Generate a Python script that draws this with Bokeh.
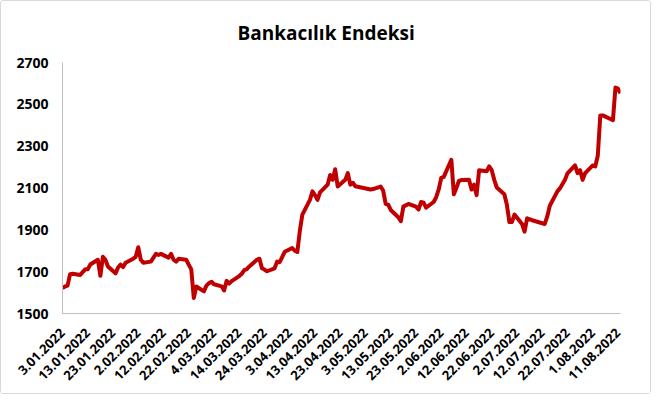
import math
from datetime import datetime
from bokeh.plotting import figure
from bokeh.models import Range1d, FixedTicker
from bokeh.embed import file_html
from bokeh.resources import INLINE

# ---- data ----
dates = [
    "2022-01-03", "2022-01-04", "2022-01-05", "2022-01-06", "2022-01-07",
    "2022-01-10", "2022-01-11", "2022-01-12", "2022-01-13", "2022-01-14",
    "2022-01-17", "2022-01-18", "2022-01-19", "2022-01-20", "2022-01-21",
    "2022-01-24", "2022-01-25", "2022-01-26", "2022-01-27", "2022-01-28",
    "2022-01-31", "2022-02-01", "2022-02-02", "2022-02-03", "2022-02-04",
    "2022-02-07", "2022-02-09", "2022-02-10", "2022-02-11", "2022-02-14",
    "2022-02-15", "2022-02-16", "2022-02-17", "2022-02-18", "2022-02-21",
    "2022-02-22", "2022-02-23", "2022-02-24", "2022-02-25", "2022-02-28",
    "2022-03-01", "2022-03-02", "2022-03-03", "2022-03-04", "2022-03-07",
    "2022-03-08", "2022-03-09", "2022-03-10", "2022-03-11", "2022-03-14",
    "2022-03-15", "2022-03-16", "2022-03-17", "2022-03-18", "2022-03-21",
    "2022-03-22", "2022-03-23", "2022-03-24", "2022-03-25", "2022-03-28",
    "2022-03-29", "2022-03-30", "2022-03-31", "2022-04-01", "2022-04-04",
    "2022-04-05", "2022-04-06", "2022-04-07", "2022-04-08", "2022-04-11",
    "2022-04-12", "2022-04-13", "2022-04-14", "2022-04-15", "2022-04-18",
    "2022-04-19", "2022-04-20", "2022-04-21", "2022-04-22", "2022-04-25",
    "2022-04-26", "2022-04-27", "2022-04-28", "2022-04-29", "2022-05-05",
    "2022-05-06", "2022-05-09", "2022-05-10", "2022-05-11", "2022-05-12",
    "2022-05-13", "2022-05-16", "2022-05-17", "2022-05-18", "2022-05-20",
    "2022-05-23", "2022-05-24", "2022-05-25", "2022-05-26", "2022-05-27",
    "2022-05-30", "2022-05-31", "2022-06-01", "2022-06-02", "2022-06-03",
    "2022-06-06", "2022-06-07", "2022-06-08", "2022-06-09", "2022-06-10",
    "2022-06-13", "2022-06-14", "2022-06-15", "2022-06-16", "2022-06-17",
    "2022-06-20", "2022-06-21", "2022-06-22", "2022-06-23", "2022-06-24",
    "2022-06-27", "2022-06-28", "2022-06-29", "2022-06-30", "2022-07-01",
    "2022-07-04", "2022-07-05", "2022-07-06", "2022-07-08", "2022-07-13",
    "2022-07-14", "2022-07-15", "2022-07-18", "2022-07-19", "2022-07-21",
    "2022-07-22", "2022-07-25", "2022-07-26", "2022-07-27", "2022-07-28",
    "2022-07-29", "2022-08-01", "2022-08-02", "2022-08-03", "2022-08-04",
    "2022-08-05", "2022-08-08", "2022-08-09", "2022-08-10", "2022-08-11",
    "2022-08-12",
]
values = [
    1622, 1629, 1633, 1688, 1690,
    1684, 1698, 1711, 1711, 1734,
    1757, 1680, 1771, 1757, 1725,
    1692, 1720, 1734, 1722, 1743,
    1762, 1771, 1817, 1757, 1743,
    1748, 1785, 1780, 1785, 1767,
    1785, 1757, 1748, 1762, 1757,
    1734, 1711, 1574, 1629, 1606,
    1633, 1645, 1652, 1640, 1630,
    1610, 1656, 1643, 1655, 1679,
    1690, 1707, 1712, 1725, 1757,
    1762, 1716, 1710, 1702, 1716,
    1748, 1745, 1770, 1795, 1813,
    1800, 1794, 1895, 1973, 2043,
    2084, 2066, 2043, 2079, 2116,
    2162, 2139, 2190, 2107, 2139,
    2171, 2116, 2125, 2108, 2093,
    2095, 2107, 2088, 2024, 2020,
    1995, 1960, 1941, 2011, 2024,
    2011, 1997, 2033, 2030, 2006,
    2033, 2056, 2093, 2148, 2153,
    2235, 2070, 2100, 2134, 2138,
    2139, 2093, 2116, 2066, 2185,
    2180, 2203, 2185, 2139, 2102,
    2070, 2020, 1937, 1937, 1973,
    1928, 1891, 1955, 1946, 1928,
    1964, 2015, 2084, 2098, 2139,
    2170, 2208, 2171, 2185, 2139,
    2171, 2208, 2203, 2254, 2447,
    2447, 2430, 2424, 2580, 2575,
    2553,
]
x_tick_labels = [
    "3.01.2022", "13.01.2022", "23.01.2022", "2.02.2022", "12.02.2022",
    "22.02.2022", "4.03.2022", "14.03.2022", "24.03.2022", "3.04.2022",
    "13.04.2022", "23.04.2022", "3.05.2022", "13.05.2022", "23.05.2022",
    "2.06.2022", "12.06.2022", "22.06.2022", "2.07.2022", "12.07.2022",
    "22.07.2022", "1.08.2022", "11.08.2022",
]
y_ticks = [1500, 1700, 1900, 2100, 2300, 2500, 2700]
title_text = "Bankacılık Endeksi"

EPOCH = datetime(1970, 1, 1)


def to_ms(d):
    return int((d - EPOCH).total_seconds() * 1000)


x_dt = [datetime.strptime(s, "%Y-%m-%d") for s in dates]
tick_ms = [to_ms(datetime.strptime(s, "%d.%m.%Y")) for s in x_tick_labels]

FRAME_W, FRAME_H = 558, 251

p = figure(
    width=651, height=394,
    x_axis_type="datetime",
    x_range=Range1d(to_ms(x_dt[0]), to_ms(x_dt[-1])),
    y_range=Range1d(y_ticks[0], y_ticks[-1]),
    output_backend="svg", toolbar_location=None,
    min_border_left=61, min_border_right=651 - 61 - FRAME_W,
    min_border_top=61, min_border_bottom=394 - 61 - FRAME_H,
)
p.styles = {"border": "1px solid #d9d9d9", "border-radius": "3px"}

p.line(x_dt, values, line_color="#c00000", line_width=4, line_join="round")

p.title.text = title_text
p.title.align = "left"
p.title.offset = 175
p.title.vertical_align = "top"
p.title.standoff = 30
p.title.text_font = "Open Sans"
p.title.text_font_size = "19px"
p.title.text_font_style = "bold"
p.title.text_color = "#000000"

p.xgrid.grid_line_color = None
p.ygrid.grid_line_color = None
p.outline_line_color = None

p.yaxis.ticker = FixedTicker(ticks=y_ticks)
p.xaxis.ticker = FixedTicker(ticks=tick_ms)
p.xaxis.major_label_overrides = {t: lab for t, lab in zip(tick_ms, x_tick_labels)}
p.xaxis.major_label_orientation = math.pi / 4

for ax in (p.xaxis[0], p.yaxis[0]):
    ax.axis_line_color = "#bfbfbf"
    ax.axis_line_width = 1
    ax.major_tick_line_color = None
    ax.minor_tick_line_color = None
    ax.major_tick_out = 0
    ax.major_tick_in = 0
    ax.minor_tick_out = 0
    ax.major_label_text_font = "Open Sans"
    ax.major_label_text_font_style = "bold"
    ax.major_label_text_color = "#000000"

p.yaxis.major_label_text_font_size = "14px"
p.xaxis.major_label_text_font_size = "13px"
p.yaxis.major_label_standoff = 14
p.xaxis.major_label_standoff = 17

open("out.html", "w").write(file_html(p, INLINE))
